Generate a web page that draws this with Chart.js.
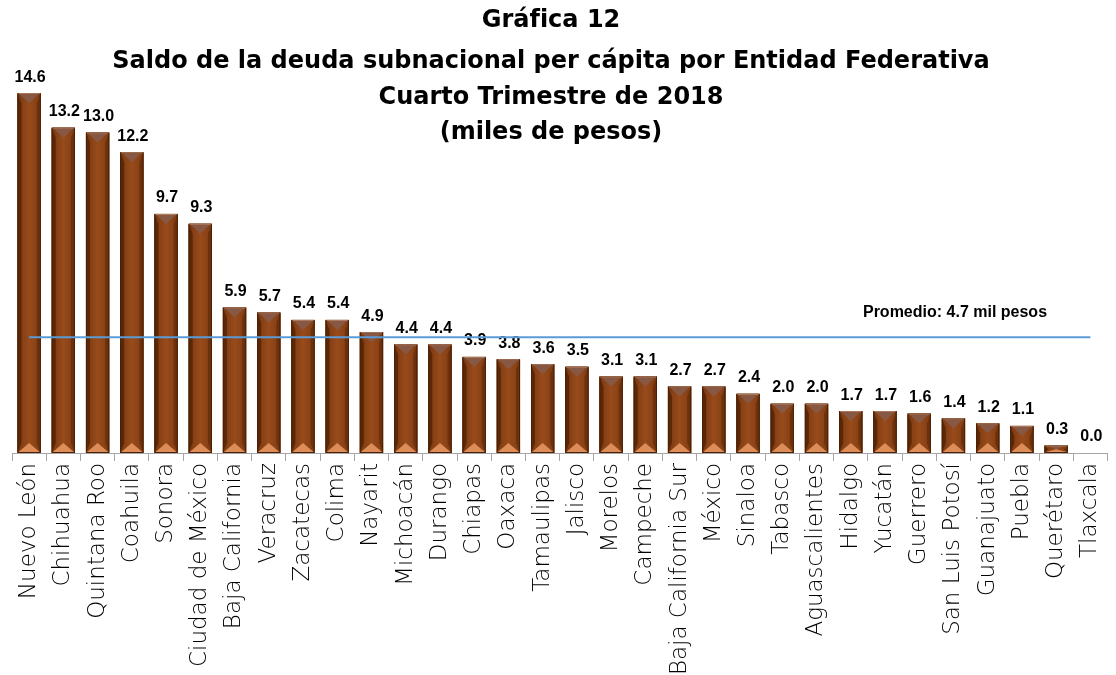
<!DOCTYPE html>
<html lang="es">
<head>
  <meta charset="UTF-8" />
  <title>Gráfica 12 - Deuda subnacional per cápita</title>
  <script src="https://cdn.jsdelivr.net/npm/chart.js"></script>
  <style>
    html, body { margin: 0; padding: 0; background: #fff; overflow: hidden; }
    #wrap { width: 1120px; height: 675px; }
  </style>
</head>
<body>
  <div id="wrap"><canvas id="grafica"></canvas></div>

  <script>
    // Entidades federativas (orden de la gráfica)
    const entidades = [
      'Nuevo León', 'Chihuahua', 'Quintana Roo', 'Coahuila', 'Sonora',
      'Ciudad de México', 'Baja California', 'Veracruz', 'Zacatecas', 'Colima',
      'Nayarit', 'Michoacán', 'Durango', 'Chiapas', 'Oaxaca', 'Tamaulipas',
      'Jalisco', 'Morelos', 'Campeche', 'Baja California Sur', 'México',
      'Sinaloa', 'Tabasco', 'Aguascalientes', 'Hidalgo', 'Yucatán', 'Guerrero',
      'San Luis Potosí', 'Guanajuato', 'Puebla', 'Querétaro', 'Tlaxcala'
    ];

    // Saldo per cápita (miles de pesos)
    const saldo = [
      14.6, 13.2, 13.0, 12.2, 9.7, 9.3, 5.9, 5.7, 5.4, 5.4, 4.9, 4.4, 4.4,
      3.9, 3.8, 3.6, 3.5, 3.1, 3.1, 2.7, 2.7, 2.4, 2.0, 2.0, 1.7, 1.7, 1.6,
      1.4, 1.2, 1.1, 0.3, 0.0
    ];

    const promedio = 4.7;

    const titulo = [
      'Gráfica 12',
      'Saldo de la deuda subnacional per cápita por Entidad Federativa',
      'Cuarto Trimestre de 2018',
      '(miles de pesos)'
    ];

    // Titulo dibujado encima del area (se traslapa con las barras como en el original)
    const tituloPlugin = {
      id: 'titulo',
      afterDraw(chart) {
        const ctx = chart.ctx;
        const ys = [21, 62, 98, 133];
        ctx.save();
        ctx.fillStyle = '#000';
        ctx.font = 'bold 24px "DejaVu Sans"';
        ctx.textAlign = 'center';
        ctx.textBaseline = 'middle';
        titulo.forEach((t, i) => ctx.fillText(t, 551, ys[i]));
        ctx.restore();
      }
    };

    // Efecto biselado de las barras
    const biselPlugin = {
      id: 'bisel',
      afterDatasetsDraw(chart) {
        const ctx = chart.ctx;
        const meta = chart.getDatasetMeta(0);
        ctx.save();
        meta.data.forEach(bar => {
          const w = bar.width;
          const x0 = bar.x - w / 2, x1 = bar.x + w / 2;
          const y0 = bar.y, y1 = bar.base;
          const h = y1 - y0;
          if (h < 1) return;
          const s = Math.min(4, w * 0.18);
          const t = Math.min(10, h / 2);
          // cara central
          const g = ctx.createLinearGradient(x0, 0, x1, 0);
          g.addColorStop(0, '#7a3810');
          g.addColorStop(0.5, '#984b1b');
          g.addColorStop(1, '#803c12');
          ctx.fillStyle = g;
          ctx.fillRect(x0, y0, w, h);
          // lado izquierdo
          ctx.fillStyle = '#5a2807';
          ctx.beginPath();
          ctx.moveTo(x0, y0); ctx.lineTo(x0 + s, y0 + t); ctx.lineTo(x0 + s, y1 - t); ctx.lineTo(x0, y1);
          ctx.closePath(); ctx.fill();
          // lado derecho
          ctx.fillStyle = '#6c310c';
          ctx.beginPath();
          ctx.moveTo(x1, y0); ctx.lineTo(x1 - s, y0 + t); ctx.lineTo(x1 - s, y1 - t); ctx.lineTo(x1, y1);
          ctx.closePath(); ctx.fill();
          // arriba
          ctx.fillStyle = '#875844';
          ctx.beginPath();
          ctx.moveTo(x0 + 1, y0); ctx.lineTo(x1 - 1, y0); ctx.lineTo(bar.x, y0 + t);
          ctx.closePath(); ctx.fill();
          // abajo
          ctx.fillStyle = '#dc8d58';
          ctx.beginPath();
          ctx.moveTo(x0 + 1, y1 - 1); ctx.lineTo(x1 - 1, y1 - 1); ctx.lineTo(bar.x, y1 - t);
          ctx.closePath(); ctx.fill();
          // contorno
          ctx.strokeStyle = '#4a2006';
          ctx.lineWidth = 1;
          ctx.strokeRect(x0 + 0.5, y0 + 0.5, w - 1, h - 1);
          ctx.strokeStyle = '#b98366';
          ctx.beginPath();
          ctx.moveTo(x0 + 1, y0 + 0.5); ctx.lineTo(x1 - 1, y0 + 0.5);
          ctx.stroke();
        });
        ctx.restore();
      },
      afterDraw(chart) {
        const ctx = chart.ctx;
        const meta = chart.getDatasetMeta(0);
        const xs = chart.scales.x, ys = chart.scales.y;
        ctx.save();
        // etiquetas de valores
        ctx.fillStyle = '#000';
        ctx.font = 'bold 16px "Liberation Sans"';
        ctx.textAlign = 'center';
        ctx.textBaseline = 'bottom';
        meta.data.forEach((bar, i) => {
          ctx.fillText(saldo[i].toFixed(1), bar.x + 1, bar.y - 8);
        });
        // linea de promedio
        const yp = ys.getPixelForValue(promedio);
        ctx.strokeStyle = '#5b9bd5';
        ctx.lineWidth = 2;
        ctx.beginPath();
        ctx.moveTo(xs.getPixelForValue(0), yp);
        ctx.lineTo(xs.getPixelForValue(entidades.length - 1), yp);
        ctx.stroke();
        ctx.font = 'bold 16px "Liberation Sans"';
        ctx.textBaseline = 'middle';
        ctx.fillText('Promedio: ' + promedio.toFixed(1) + ' mil pesos', 955, yp - 25);
        ctx.restore();
      }
    };

    const ctx = document.getElementById('grafica').getContext('2d');
    new Chart(ctx, {
      type: 'bar',
      data: {
        labels: entidades,
        datasets: [{
          data: saldo,
          backgroundColor: '#8a4315',
          borderWidth: 0,
          categoryPercentage: 1,
          barPercentage: 0.68
        }]
      },
      options: {
        responsive: true,
        maintainAspectRatio: false,
        animation: false,
        layout: { padding: { left: 12, right: 1, top: 34, bottom: 0 } },
        plugins: {
          legend: { display: false },
          tooltip: { enabled: false }
        },
        scales: {
          x: {
            afterFit: s => { s.height = 222; },
            grid: {
              offset: true,
              drawOnChartArea: false,
              color: '#a6a6a6',
              tickLength: 8
            },
            border: { color: '#a6a6a6' },
            ticks: {
              color: '#000',
              font: { family: 'DejaVu Sans', size: 23, weight: 200 },
              minRotation: 90,
              maxRotation: 90,
              autoSkip: false,
              padding: 2
            }
          },
          y: {
            display: false,
            min: 0,
            max: 17
          }
        }
      },
      plugins: [biselPlugin, tituloPlugin]
    });
  </script>
</body>
</html>
